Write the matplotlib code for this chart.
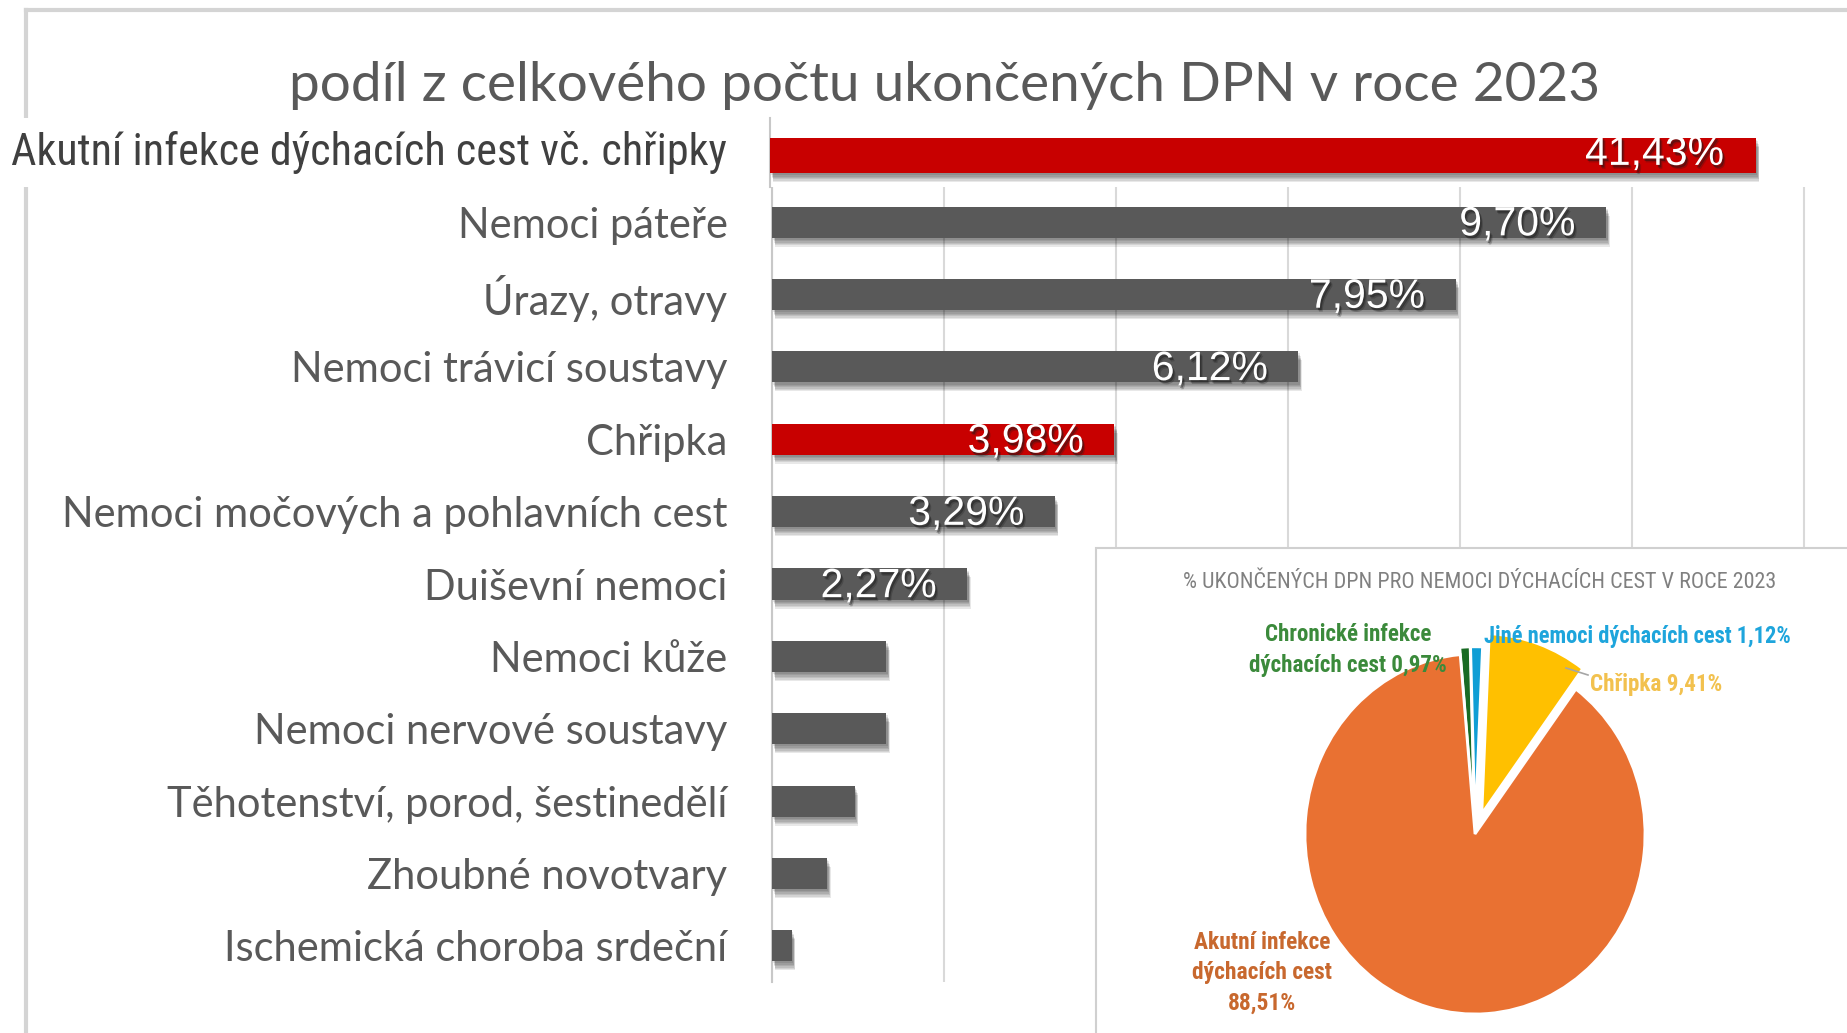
import matplotlib
matplotlib.use("Agg")
import matplotlib.pyplot as plt
from matplotlib import patheffects, font_manager
from matplotlib.patches import Rectangle
from matplotlib.lines import Line2D

W, H = 1847, 1033

categories = ["Akutní infekce dýchacích cest vč. chřipky", "Nemoci páteře", "Úrazy, otravy",
              "Nemoci trávicí soustavy", "Chřipka", "Nemoci močových a pohlavních cest",
              "Duiševní nemoci", "Nemoci kůže", "Nemoci nervové soustavy",
              "Těhotenství, porod, šestinedělí", "Zhoubné novotvary", "Ischemická choroba srdeční"]
shares = [41.43, 9.70, 7.95, 6.12, 3.98, 3.29, 2.27, 1.33, 1.33, 0.96, 0.64, 0.23]
n_labelled = 7
highlighted = ["Akutní infekce dýchacích cest vč. chřipky", "Chřipka"]

resp_names = ["Chronické infekce\ndýchacích cest", "Jiné nemoci dýchacích cest", "Chřipka",
              "Akutní infekce\ndýchacích cest\n"]
resp_shares = [0.97, 1.12, 9.41, 88.51]

title = "podíl z celkového počtu ukončených DPN v roce 2023"
pie_title = "% UKONČENÝCH DPN PRO NEMOCI DÝCHACÍCH CEST V ROCE 2023"

RED, GREY = "#c80000", "#595959"
slice_colors = ["#196b24", "#0f9ed5", "#ffc000", "#e97132"]
label_colors = ["#3b8a3b", "#1ea5dc", "#f2c14e", "#c8682e"]

installed = {f.name for f in font_manager.fontManager.ttflist}
NARROW = next((f for f in ["Liberation Sans Narrow", "Roboto Condensed", "Roboto"] if f in installed), "DejaVu Sans")


def pct(v):
    return f"{v:.2f}%".replace(".", ",")


def box(l, t, r, b):
    # pixel box (from top-left) -> figure fraction rect
    return [l / W, 1 - b / H, (r - l) / W, (b - t) / H]


fig = plt.figure(figsize=(W / 100, H / 100), dpi=100)
fig.patch.set_facecolor("white")
renderer = fig.canvas.get_renderer()


def fit(txt, width):
    w = txt.get_window_extent(renderer).width
    txt.set_fontsize(txt.get_fontsize() * width / w)


# soft drop shadow: a few stacked translucent copies
bar_shadow = [patheffects.SimplePatchShadow(offset=(1 + 0.3 * k, -1.5 - k), shadow_rgbFace="black", alpha=0.09)
              for k in range(6)] + [patheffects.Normal()]
text_shadow = [patheffects.SimplePatchShadow(offset=(1.2, -1.8), shadow_rgbFace="#1a1a1a", alpha=0.45),
               patheffects.SimplePatchShadow(offset=(2, -2.8), shadow_rgbFace="#1a1a1a", alpha=0.25),
               patheffects.Normal()]

# slide frame
fig.add_artist(Line2D([26 / W, 1], [1 - 10 / H] * 2, color="#d4d4d4", lw=3, zorder=0.5))
fig.add_artist(Line2D([26 / W] * 2, [0, 1 - 10 / H], color="#d4d4d4", lw=3, zorder=0.5))

t = fig.text(945 / W, 1 - 86 / H, title, ha="center", va="center", color=GREY,
             fontfamily="Lato", fontsize=40)
fit(t, 1313)

# main bars (everything except the first, which sits on its own strip)
ax = fig.add_axes(box(772, 186, 1847, 982), zorder=0)
rows = list(range(len(categories) - 1))
colors = [RED if c in highlighted else GREY for c in categories[1:]]
bars = ax.barh(rows, shares[1:], height=0.43, color=colors, zorder=3)
for b in bars:
    b.set_path_effects(bar_shadow)
ax.set_xlim(0, 1075 / 86)
ax.set_ylim(len(rows) - 0.5, -0.5)
ax.set_xticks(range(0, 13, 2))
ax.tick_params(length=0, labelbottom=False)
ax.grid(axis="x", color="#d9d9d9", lw=1.5, zorder=0)
for s in ["top", "right", "bottom"]:
    ax.spines[s].set_visible(False)
ax.spines["left"].set_color("#c8c8c8")
ax.spines["left"].set_linewidth(1.5)
ax.set_yticks(rows)
ax.set_yticklabels(categories[1:], color=GREY, fontfamily="Lato", fontsize=28)
ax.tick_params(axis="y", pad=32)
longest = [lb for lb in ax.get_yticklabels() if lb.get_text() == "Nemoci močových a pohlavních cest"][0]
scale = 666 / longest.get_window_extent(renderer).width
for lb in ax.get_yticklabels():
    lb.set_fontsize(28 * scale)

for i, v in zip(rows[:n_labelled - 1], shares[1:n_labelled]):
    ax.annotate(pct(v), (v, i + 0.03), xytext=(-22, 0), textcoords="offset points", ha="right", va="center",
                color="white", fontfamily="Liberation Sans", fontsize=29.5, zorder=5,
                path_effects=text_shadow)

# top strip with the dominant category on its own scale
fig.add_artist(Rectangle((0, 1 - 187 / H), 1814 / W, 69 / H, transform=fig.transFigure,
                         facecolor="white", edgecolor="none", zorder=1))
top = fig.add_axes(box(770, 118, 1814, 187), zorder=1.5)
top.set_facecolor("white")
top.set_xlim(0, shares[0] * (1814 - 770) / (1756 - 770))
top.set_ylim(-0.5, 0.5)
tb = top.barh([-0.045], [shares[0]], height=0.51, color=RED, zorder=3)
tb[0].set_path_effects(bar_shadow)
top.annotate(pct(shares[0]), (shares[0], -0.02), xytext=(-23, 0), textcoords="offset points",
             ha="right", va="center", color="white", fontfamily="Liberation Sans", fontsize=29.5,
             path_effects=text_shadow)
top.set_xticks([])
top.set_yticks([])
for s in ["top", "right", "bottom"]:
    top.spines[s].set_visible(False)
top.spines["left"].set_color("#c8c8c8")
top.spines["left"].set_linewidth(1.5)
lbl = fig.text(727 / W, 1 - 153 / H, categories[0], ha="right", va="center", color="#404040",
               fontfamily=NARROW, fontsize=30, zorder=4)
fit(lbl, 715)

# inset with the respiratory breakdown
fig.add_artist(Rectangle((1096 / W, -0.01), 1, (1033 - 548) / H + 0.01, transform=fig.transFigure,
                         facecolor="white", edgecolor="#d0d0d0", lw=1.5, zorder=2))
pt = fig.text(1480 / W, 1 - 582 / H, pie_title, ha="center", va="center", color="#808080",
              fontfamily=NARROW, fontsize=14, zorder=4)
fit(pt, 598)

cx, cy, rx, ry = 1475, 834, 170, 180
pax = fig.add_axes(box(cx - 1.4 * rx, cy - 1.4 * ry, cx + 1.4 * rx, cy + 1.4 * ry), zorder=3)
pax.pie(resp_shares, colors=slice_colors, startangle=95, counterclock=False,
        explode=[0.04, 0.04, 0.12, 0], wedgeprops=dict(edgecolor="white", linewidth=2))
pax.set_aspect("auto")
pax.set_xlim(-1.4, 1.4)
pax.set_ylim(-1.4, 1.4)
pax.axis("off")

seps = [" ", " ", " ", "\n"]
resp_labels = [n.rstrip("\n") + s + pct(v) for n, s, v in zip(resp_names, seps, resp_shares)]
spots = [(1348, 650, "center", 198), (1484, 637, "left", 310),
         (1590, 684, "left", 133), (1262, 973, "center", 138)]
for text, col, (x, y, ha, w) in zip(resp_labels, label_colors, spots):
    tt = fig.text(x / W, 1 - y / H, text, ha=ha, va="center", ma="center", color=col,
                  fontfamily=NARROW, fontweight="bold", fontsize=14, linespacing=1.4, zorder=4)
    widest = max(text.split("\n"), key=len)
    probe = fig.text(0, 0, widest, fontfamily=NARROW, fontweight="bold", fontsize=14)
    tt.set_fontsize(14 * w / probe.get_window_extent(renderer).width)
    probe.remove()

fig.add_artist(Line2D([1566 / W, 1588 / W], [1 - 668 / H, 1 - 675 / H], color="#a6a6a6", lw=1.2, zorder=4))

fig.savefig("out.png", dpi=100)
